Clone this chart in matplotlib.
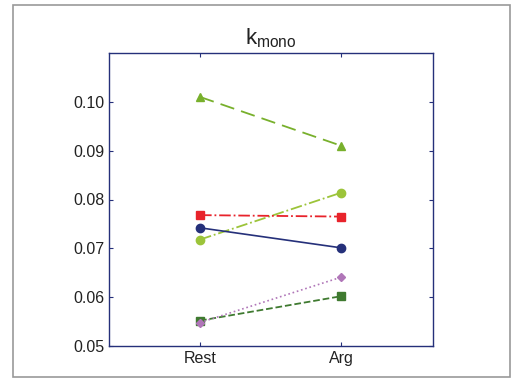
import matplotlib
matplotlib.use("Agg")
import matplotlib.pyplot as plt
from matplotlib.patches import Rectangle

conditions = ["Rest", "Arg"]
s_tri = [0.1010, 0.0910]
s_ltgreen = [0.0718, 0.0814]
s_red = [0.0768, 0.0765]
s_navy = [0.0742, 0.0701]
s_purple = [0.0548, 0.0641]
s_dkgreen = [0.0552, 0.0602]
yticks = [0.05, 0.06, 0.07, 0.08, 0.09, 0.10]

plt.rcParams['font.family'] = ['Liberation Sans', 'DejaVu Sans']

fig = plt.figure(figsize=(5.17, 3.79), dpi=100)
ax = fig.add_axes([109/517, 1-346/379, (433-109)/517, (346-53)/379])

x = [1, 2]
ax.plot(x, s_tri, color='#78b02c', ls=(0, (8, 4)), lw=1.3, marker='^', ms=6)
ax.plot(x, s_ltgreen, color='#9cc43a', ls='-.', lw=1.3, marker='o', ms=6)
ax.plot(x, s_red, color='#e8232b', ls='-.', lw=1.3, marker='s', ms=6)
ax.plot(x, s_navy, color='#25307a', ls='-', lw=1.2, marker='o', ms=6)
ax.plot(x, s_dkgreen, color='#3f7a30', ls='--', lw=1.3, marker='s', ms=6)
ax.plot(x, s_purple, color='#b076b8', ls=':', lw=1.2, marker='D', ms=4.5)

ax.set_xlim(0.355, 2.65)
ax.set_ylim(0.05, 0.11)
ax.set_xticks(x)
ax.set_xticklabels(conditions)
ax.set_yticks(yticks)
ax.set_yticklabels([f"{v:.2f}" for v in yticks])
ax.tick_params(direction='in', top=True, right=True, length=3, labelsize=11.5,
               color='#25307a', labelcolor='#222222')
for sp in ax.spines.values():
    sp.set_color('#25307a')
    sp.set_linewidth(1.0)
ax.set_title(r"k$_{\mathregular{mono}}$", fontsize=16, pad=6, color='#222222')

fig.patches.append(Rectangle((13/517, 2/379), (510-13)/517, (377-5)/379,
                             transform=fig.transFigure, fill=False,
                             edgecolor='#999999', lw=1.2))

fig.savefig("out.png", dpi=100)
